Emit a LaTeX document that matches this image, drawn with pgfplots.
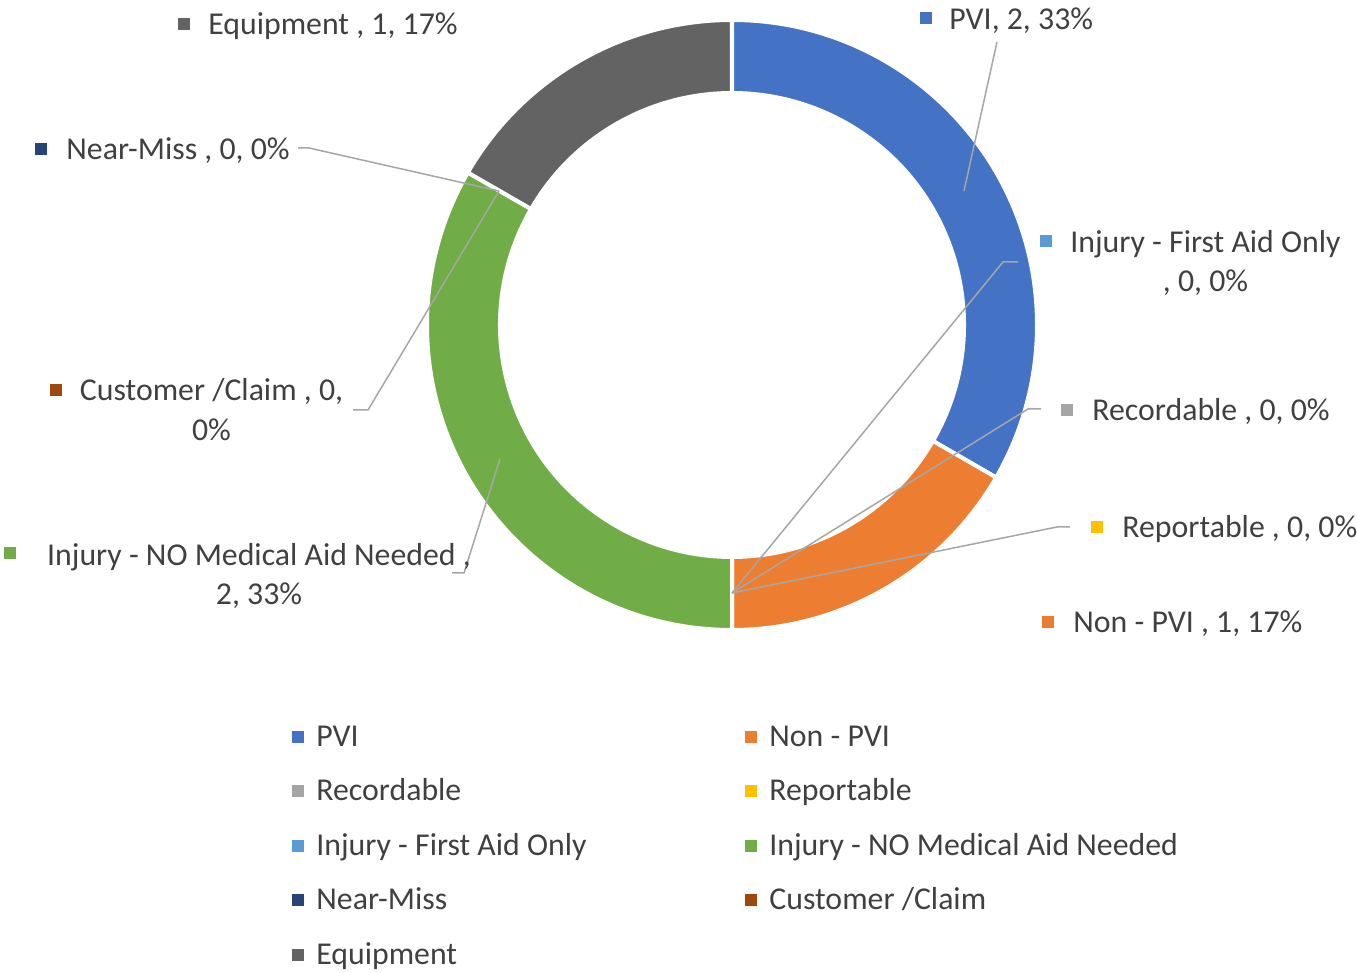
\documentclass[border=0pt]{standalone}
\usepackage{pgfplots}
\pgfplotsset{compat=1.18}
\usepackage{fontspec}
\setmainfont{Carlito}
\definecolor{cPVI}{HTML}{4472C4}
\definecolor{cNon}{HTML}{ED7D31}
\definecolor{cRec}{HTML}{A5A5A5}
\definecolor{cRep}{HTML}{FFC000}
\definecolor{cFA}{HTML}{5B9BD5}
\definecolor{cNoMed}{HTML}{70AD47}
\definecolor{cNM}{HTML}{264478}
\definecolor{cCust}{HTML}{9E480E}
\definecolor{cEq}{HTML}{636363}
\definecolor{txt}{HTML}{404040}
\definecolor{lead}{HTML}{A6A6A6}
\newcommand\lf{\fontsize{15.9pt}{19.5pt}\selectfont}
\tikzset{lbl/.style={inner sep=0pt, text=txt, font=\lf}}
\begin{document}
\begin{tikzpicture}
\begin{axis}[x=0.5pt, y=0.5pt, xmin=0, xmax=1357, ymin=0, ymax=973,
  hide axis, clip=false]
% ring slices: value / colour (total = 6)
\xdef\acur{90}
\foreach \v/\c in {2/cPVI,1/cNon,0/cRec,0/cRep,0/cFA,2/cNoMed,0/cNM,0/cCust,1/cEq}{
  \pgfmathsetmacro{\anext}{\acur-\v/6*360}
  \ifdim\v pt>0pt
    \edef\temp{\noexpand\fill[\c, draw=white, line width=2pt]
      ([shift={(\acur:152.5pt)}]axis cs:732,648)
      arc[start angle=\acur, end angle=\anext, radius=152.5pt]
      -- ([shift={(\anext:116pt)}]axis cs:732,648)
      arc[start angle=\anext, end angle=\acur, radius=116pt] -- cycle;}
    \temp
  \fi
  \xdef\acur{\anext}
}
% leader lines
\draw[lead, line width=0.75pt] (axis cs:964,782) -- (axis cs:997,931);
\draw[lead, line width=0.75pt] (axis cs:732,380) -- (axis cs:1003,711) -- (axis cs:1018,711);
\draw[lead, line width=0.75pt] (axis cs:732,380) -- (axis cs:1028,564) -- (axis cs:1041,564);
\draw[lead, line width=0.75pt] (axis cs:732,380) -- (axis cs:1057,446) -- (axis cs:1070,446);
\draw[lead, line width=0.75pt] (axis cs:500,514) -- (axis cs:464,400) -- (axis cs:452,400);
\draw[lead, line width=0.75pt] (axis cs:499,782) -- (axis cs:368,563) -- (axis cs:353,563);
\draw[lead, line width=0.75pt] (axis cs:499,782) -- (axis cs:309,825) -- (axis cs:298,825);
% data labels
\fill[cEq] (axis cs:178,943) rectangle (axis cs:190,955);
\node[lbl, anchor=base west] at (axis cs:208,938) {Equipment , 1, 17\%};
\fill[cPVI] (axis cs:920,949) rectangle (axis cs:932,961);
\node[lbl, anchor=base west] at (axis cs:949,943) {PVI, 2, 33\%};
\fill[cNM] (axis cs:35,818) rectangle (axis cs:47,830);
\node[lbl, anchor=base west] at (axis cs:66,813) {Near-Miss , 0, 0\%};
\fill[cFA] (axis cs:1040,726) rectangle (axis cs:1052,738);
\node[lbl, anchor=base] at (axis cs:1205.5,720) {Injury - First Aid Only};
\node[lbl, anchor=base] at (axis cs:1205.5,681) {, 0, 0\%};
\fill[cCust] (axis cs:50,577) rectangle (axis cs:62,589);
\node[lbl, anchor=base] at (axis cs:211.5,572) {Customer /Claim , 0,};
\node[lbl, anchor=base] at (axis cs:211.5,532) {0\%};
\fill[cRec] (axis cs:1061,557) rectangle (axis cs:1073,569);
\node[lbl, anchor=base west] at (axis cs:1092,552) {Recordable , 0, 0\%};
\fill[cNoMed] (axis cs:4,414) rectangle (axis cs:16,426);
\node[lbl, anchor=base] at (axis cs:259,407) {Injury - NO Medical Aid Needed ,};
\node[lbl, anchor=base] at (axis cs:259,368) {2, 33\%};
\fill[cRep] (axis cs:1091,440) rectangle (axis cs:1103,452);
\node[lbl, anchor=base west] at (axis cs:1122,435) {Reportable , 0, 0\%};
\fill[cNon] (axis cs:1042,345) rectangle (axis cs:1054,357);
\node[lbl, anchor=base west] at (axis cs:1073,340) {Non - PVI , 1, 17\%};
% legend
\foreach \nm/\c/\lx/\ly in {PVI/cPVI/292/236, {Non - PVI}/cNon/745/236,
  Recordable/cRec/292/182, Reportable/cRep/745/182,
  {Injury - First Aid Only}/cFA/292/127, {Injury - NO Medical Aid Needed}/cNoMed/745/127,
  Near-Miss/cNM/292/73, {Customer {/}Claim}/cCust/745/73, Equipment/cEq/292/18}{
  \edef\temp{\noexpand\fill[\c] (axis cs:\lx,\ly-6) rectangle (axis cs:\lx+12,\ly+6);
    \noexpand\node[lbl, anchor=base west] at (axis cs:\lx+24,\ly-10) {\nm};}
  \temp
}
\end{axis}
\pgfresetboundingbox
\path (0,0) rectangle (678.5pt,486.5pt);
\end{tikzpicture}
\end{document}
